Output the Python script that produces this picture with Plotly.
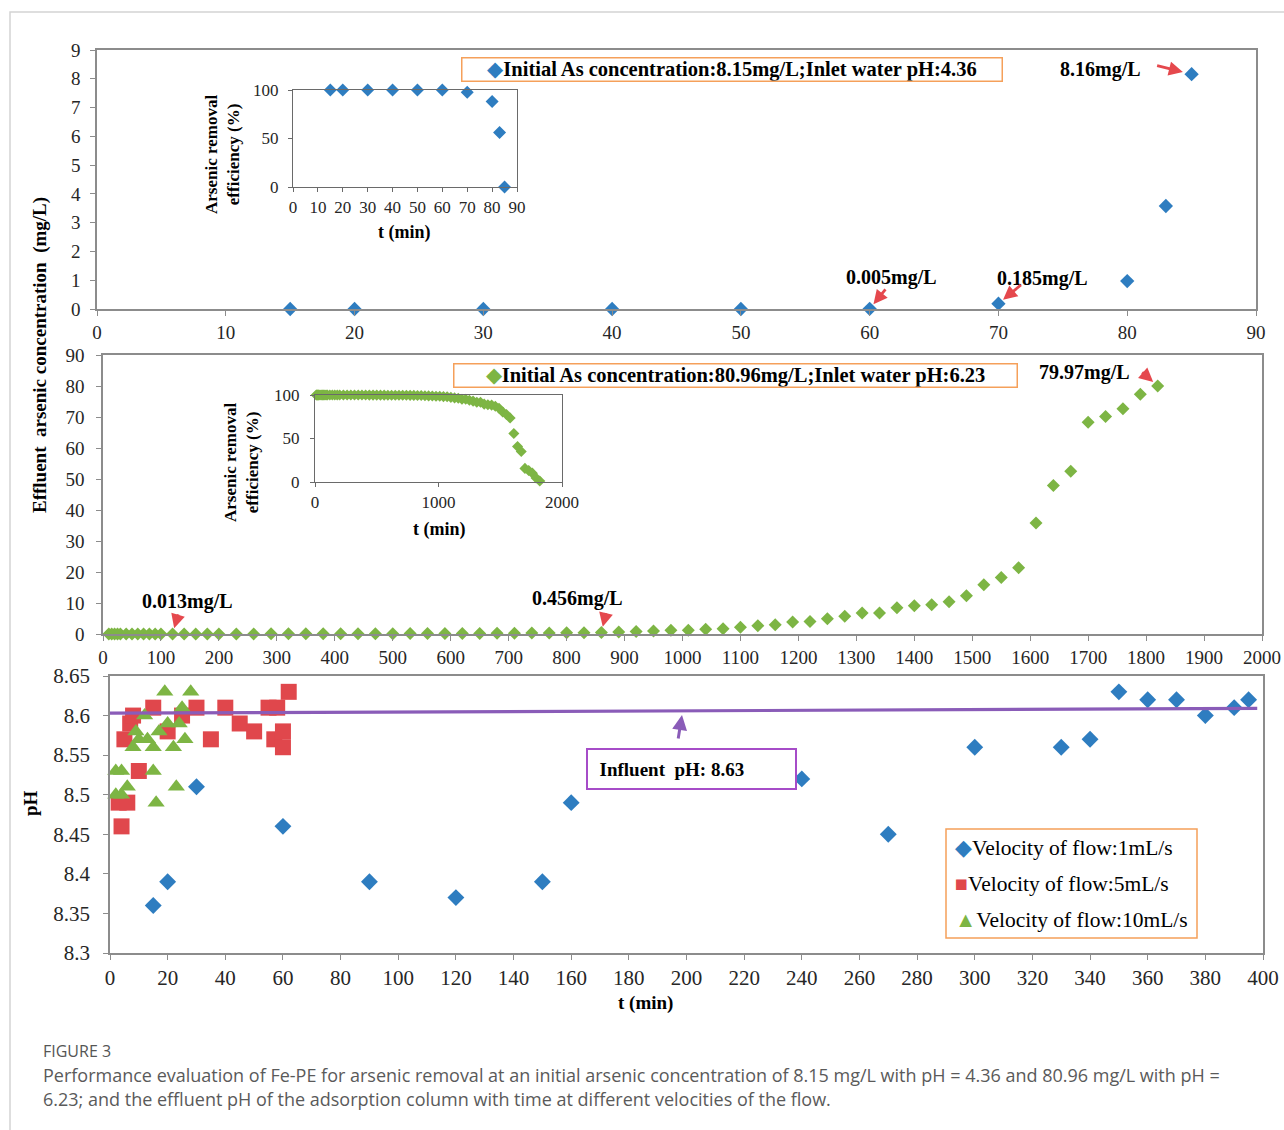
import plotly.graph_objects as go

W, H = 1284, 1130
SERIF = "Liberation Serif, Times New Roman, serif"
SANS = "Open Sans, Noto Sans, sans-serif"

# ---- Panel 1: 8.15 mg/L feed, pH 4.36 ----
t_low = [15, 20, 30, 40, 50, 60, 70, 80, 83, 85]
conc_low = [0, 0, 0, 0, 0, 0.005, 0.185, 0.97, 3.58, 8.16]
eff_low = [100, 100, 100, 100, 100, 99.9, 97.7, 88.1, 56.1, 0]

# ---- Panel 2: 80.96 mg/L feed, pH 6.23 ----
t_high = [10, 15, 20, 25, 30, 40, 50, 60, 70, 80, 90, 100,
          120, 140, 160, 180,
          200, 230, 260, 290, 320, 350, 380, 410, 440, 470,
          500, 530, 560, 590, 620, 650, 680, 710, 740, 770,
          800, 830, 860, 890, 920, 950, 980, 1010, 1040, 1070,
          1100, 1130, 1160, 1190, 1220, 1250, 1280, 1310, 1340, 1370,
          1400, 1430, 1460, 1490, 1520, 1550, 1580, 1610, 1640, 1670,
          1700, 1730, 1760, 1790, 1820]
conc_high = [0.005, 0.004, 0.006, 0.005, 0.007, 0.008, 0.008, 0.009, 0.010, 0.011, 0.012, 0.012,
             0.013, 0.02, 0.02, 0.03,
             0.03, 0.04, 0.04, 0.05, 0.06, 0.07, 0.07, 0.08, 0.09, 0.10,
             0.11, 0.13, 0.14, 0.16, 0.18, 0.20, 0.23, 0.26, 0.30, 0.33,
             0.37, 0.41, 0.456, 0.66, 0.84, 1.0, 1.2, 1.2, 1.5, 1.7,
             2.2, 2.7, 3.0, 3.9, 4.0, 4.9, 5.7, 6.8, 6.8, 8.5,
             9.1, 9.4, 10.4, 12.3, 15.9, 18.2, 21.4, 35.8, 47.9, 52.5,
             68.3, 70.2, 72.7, 77.3, 79.97]
eff_high = [99.99, 99.99, 99.99, 99.99, 99.99, 99.99, 99.99, 99.99, 99.99, 99.99, 99.99, 99.99,
            99.98, 99.98, 99.98, 99.96,
            99.96, 99.95, 99.95, 99.94, 99.93, 99.91, 99.91, 99.90, 99.89, 99.88,
            99.86, 99.84, 99.83, 99.80, 99.78, 99.75, 99.72, 99.68, 99.63, 99.59,
            99.54, 99.49, 99.44, 99.18, 98.96, 98.76, 98.52, 98.52, 98.15, 97.90,
            97.28, 96.67, 96.29, 95.18, 95.06, 93.95, 92.96, 91.60, 91.60, 89.50,
            88.76, 88.39, 87.15, 84.81, 80.36, 77.52, 73.57, 55.78, 40.83, 35.15,
            15.64, 13.29, 10.20, 4.52, 1.22]

# ---- Panel 3: effluent pH at three flow velocities ----
t_v1 = [15, 20, 30, 60, 90, 120, 150, 160, 240, 270, 300, 330, 340, 350, 360, 370, 380, 390, 395]
ph_v1 = [8.36, 8.39, 8.51, 8.46, 8.39, 8.37, 8.39, 8.49, 8.52, 8.45, 8.56, 8.56, 8.57, 8.63, 8.62,
         8.62, 8.60, 8.61, 8.62]
t_v5 = [3, 4, 6, 5, 7, 8, 10, 15, 20, 25, 30, 35, 40, 45, 50, 55, 57, 58, 60, 60, 62]
ph_v5 = [8.49, 8.46, 8.49, 8.57, 8.59, 8.60, 8.53, 8.61, 8.58, 8.60, 8.61, 8.57, 8.61, 8.59, 8.58,
         8.61, 8.57, 8.61, 8.58, 8.56, 8.63]
t_v10 = [2, 4, 2, 4, 6, 8, 10, 9, 12, 13, 15, 15, 16, 17, 19, 20, 22, 23, 24, 25, 26, 28]
ph_v10 = [8.53, 8.53, 8.50, 8.50, 8.51, 8.56, 8.57, 8.58, 8.60, 8.57, 8.56, 8.53, 8.49, 8.58, 8.63,
          8.59, 8.56, 8.51, 8.59, 8.61, 8.57, 8.63]
influent_t = [0, 398]
influent_ph = [8.603, 8.609]

ph_ticks = [8.3, 8.35, 8.4, 8.45, 8.5, 8.55, 8.6, 8.65]
ph_ticktext = ["8.3", "8.35", "8.4", "8.45", "8.5", "8.55", "8.6", "8.65"]

BLUE = "#2E7DC0"
GREEN = "#7DB544"
RED = "#E0474C"
ORANGE = "#F5A05A"
PURPLE_LINE = "#8A5CB8"
PURPLE_BOX = "#A64CC8"
ARROW_RED = "#E5484D"
AXIS_GRAY = "#8C8C8C"
INSET_GRAY = "#6A6A6A"
TICK_COLOR = "#262626"


def fx(p):
    return p / W


def fy(p):
    return 1 - p / H


fig = go.Figure()


def dots(x, y, name, symbol, size, color, xa, ya):
    fig.add_trace(go.Scatter(x=x, y=y, mode="markers", name=name, cliponaxis=False,
                             marker=dict(symbol=symbol, size=size, color=color, line=dict(width=0)),
                             xaxis=xa, yaxis=ya))


dots(t_low, conc_low, "Initial As concentration:8.15mg/L", "diamond", 11, BLUE, "x", "y")
dots(t_low, eff_low, "Removal efficiency 8.15mg/L", "diamond", 10, BLUE, "x2", "y2")
dots(t_high, conc_high, "Initial As concentration:80.96mg/L", "diamond", 10, GREEN, "x3", "y3")
dots(t_high, eff_high, "Removal efficiency 80.96mg/L", "diamond", 8.5, GREEN, "x4", "y4")
dots(t_v1, ph_v1, "Velocity of flow:1mL/s", "diamond", 13, BLUE, "x5", "y5")
dots(t_v5, ph_v5, "Velocity of flow:5mL/s", "square", 16, RED, "x5", "y5")
dots(t_v10, ph_v10, "Velocity of flow:10mL/s", "triangle-up", 15, GREEN, "x5", "y5")
fig.add_trace(go.Scatter(x=influent_t, y=influent_ph, mode="lines", name="Influent pH",
                         line=dict(color=PURPLE_LINE, width=3.2), xaxis="x5", yaxis="y5"))

tick_font_main = dict(family=SERIF, size=19, color=TICK_COLOR)
tick_font_ph = dict(family=SERIF, size=21, color=TICK_COLOR)
tick_font_inset = dict(family=SERIF, size=17, color=TICK_COLOR)


def main_axis(domain, rng, dtick, anchor, font, standoff=0):
    return dict(domain=domain, range=rng, dtick=dtick, tick0=0, anchor=anchor,
                showgrid=False, zeroline=False, showline=True, linecolor=AXIS_GRAY,
                linewidth=1.5, mirror=True, ticks="outside", ticklen=5, tickcolor=AXIS_GRAY,
                tickfont=font, ticklabelstandoff=standoff, automargin=False, fixedrange=True)


def inset_axis(domain, rng, dtick, anchor, standoff=0):
    return dict(domain=domain, range=rng, dtick=dtick, tick0=0, anchor=anchor,
                showgrid=False, zeroline=False, showline=True, linecolor=INSET_GRAY,
                linewidth=1.2, mirror=True, ticks="outside", ticklen=4, tickcolor=INSET_GRAY,
                tickfont=tick_font_inset, ticklabelstandoff=standoff, automargin=False,
                fixedrange=True)


layout = dict(
    width=W, height=H, margin=dict(l=0, r=0, t=0, b=0),
    paper_bgcolor="white", plot_bgcolor="white", showlegend=False,
    xaxis=main_axis([fx(97), fx(1256)], [0, 90], 10, "y", tick_font_main),
    yaxis=main_axis([fy(309), fy(50)], [0, 9], 1, "x", tick_font_main, 6),
    xaxis2=inset_axis([fx(293), fx(517)], [0, 90], 10, "y2"),
    yaxis2=inset_axis([fy(187), fy(90)], [0, 100], 50, "x2", 6),
    xaxis3=main_axis([fx(103), fx(1262)], [0, 2000], 100, "y3", tick_font_main),
    yaxis3=main_axis([fy(634), fy(355)], [0, 90], 10, "x3", tick_font_main, 8),
    xaxis4=inset_axis([fx(315), fx(562)], [0, 2000], 1000, "y4"),
    yaxis4=inset_axis([fy(482), fy(395)], [0, 100], 50, "x4", 7),
    xaxis5=main_axis([fx(110), fx(1263)], [0, 400], 20, "y5", tick_font_ph),
    yaxis5=main_axis([fy(953), fy(676)], [8.3, 8.65], 0.05, "x5", tick_font_ph, 9),
)
layout["yaxis5"].update(tickmode="array", tickvals=ph_ticks, ticktext=ph_ticktext)
fig.update_layout(**layout)

ann = []


def text_px(x, y, text, size=20, bold=True, family=SERIF, color="black", angle=0,
            xanchor="center", **kw):
    t = f"<b>{text}</b>" if bold else text
    ann.append(dict(x=fx(x), y=fy(y), xref="paper", yref="paper", text=t, showarrow=False,
                    xanchor=xanchor, yanchor="middle", textangle=angle,
                    font=dict(family=family, size=size, color=color), **kw))


# shared axis titles
text_px(40, 355, "Effluent  arsenic concentration  (mg/L)", size=19, angle=-90)
text_px(30, 803, "pH", size=19, angle=-90)
text_px(645, 1003, "t (min)", size=19)

# inset titles
text_px(222, 155, "Arsenic removal<br>efficiency (%)", size=17, angle=-90)
text_px(404, 232, "t (min)", size=18)
text_px(241, 463, "Arsenic removal<br>efficiency (%)", size=17, angle=-90)
text_px(439, 529, "t (min)", size=18)

# series boxes for the two breakthrough panels
text_px(731.5, 70, f"<span style='color:{BLUE}'>◆</span><b>Initial As concentration:8.15mg/L;Inlet water pH:4.36</b>",
        size=20.5, bold=False, bordercolor=ORANGE, borderwidth=1.5, borderpad=0, width=539, height=22,
        bgcolor="white")
text_px(736, 376, f"<span style='color:{GREEN}'>◆</span><b>Initial As concentration:80.96mg/L;Inlet water pH:6.23</b>",
        size=20.5, bold=False, bordercolor=ORANGE, borderwidth=1.5, borderpad=0, width=562, height=22,
        bgcolor="white")

# value call-outs
text_px(1100, 70, "8.16mg/L")
text_px(891, 277, "0.005mg/L")
text_px(1042, 279, "0.185mg/L")
text_px(188, 601, "0.013mg/L")
text_px(577, 598, "0.456mg/L")
text_px(1084, 372, "79.97mg/L")


def red_arrow(xv, yv, axis, ax, ay, standoff=6):
    ann.append(dict(x=xv, y=yv, xref="x" + axis, yref="y" + axis,
                    text="", showarrow=True, arrowhead=2, arrowsize=1, arrowwidth=2.8,
                    arrowcolor=ARROW_RED, ax=ax, ay=ay, standoff=standoff))


red_arrow(t_low[-1], conc_low[-1], "", -36, -9, 9)
red_arrow(t_low[5], conc_low[5], "", 17, -21)
red_arrow(t_low[6], conc_low[6], "", 24, -20)
red_arrow(t_high[12], conc_high[12], "3", 6, -21)
red_arrow(t_high[38], conc_high[38], "3", 5, -21)
red_arrow(t_high[-1], conc_high[-1], "3", -17, -15)

# influent pH label with pointer
text_px(691.5, 769, "&nbsp;&nbsp;<b>Influent  pH: 8.63</b>", size=19, bold=False, align="left",
        bordercolor=PURPLE_BOX, borderwidth=2, borderpad=2, width=203, height=34, bgcolor="white")
ann.append(dict(x=fx(682), y=fy(715), xref="paper", yref="paper", text="", showarrow=True,
                arrowhead=2, arrowsize=1, arrowwidth=3, arrowcolor=PURPLE_LINE, ax=-4, ay=25))

# flow-velocity key
key_rows = [("◆", BLUE, "Velocity of flow:1mL/s", 848),
            ("■", RED, "Velocity of flow:5mL/s", 884),
            ("▲", GREEN, "Velocity of flow:10mL/s", 920)]
for sym, col, label, yy in key_rows:
    text_px(953, yy, f"<span style='color:{col}'>{sym}</span>{label}", size=21.5, bold=False,
            xanchor="left")

# caption
text_px(41, 1051, "FIGURE 3", size=16, bold=False, family=SANS, color="#555555", xanchor="left")
text_px(41, 1075, "Performance evaluation of Fe-PE for arsenic removal at an initial arsenic concentration of "
                  "8.15 mg/L with pH = 4.36 and 80.96 mg/L with pH =",
        size=18, bold=False, family=SANS, color="#5a5a5a", xanchor="left")
text_px(41, 1099, "6.23; and the effluent pH of the adsorption column with time at different velocities of the flow.",
        size=18, bold=False, family=SANS, color="#5a5a5a", xanchor="left")

fig.update_layout(annotations=ann)

fig.update_layout(shapes=[
    # card frame
    dict(type="rect", xref="paper", yref="paper", x0=fx(10), x1=1.02, y0=-0.02, y1=fy(12),
         line=dict(color="#D4D4D4", width=1.5), layer="below"),
    # flow-velocity key frame
    dict(type="rect", xref="paper", yref="paper", x0=fx(946), x1=fx(1197), y0=fy(938), y1=fy(829),
         line=dict(color=ORANGE, width=1.5), fillcolor="white", layer="below"),
])

fig.write_html("out.html", config=dict(displayModeBar=False))
